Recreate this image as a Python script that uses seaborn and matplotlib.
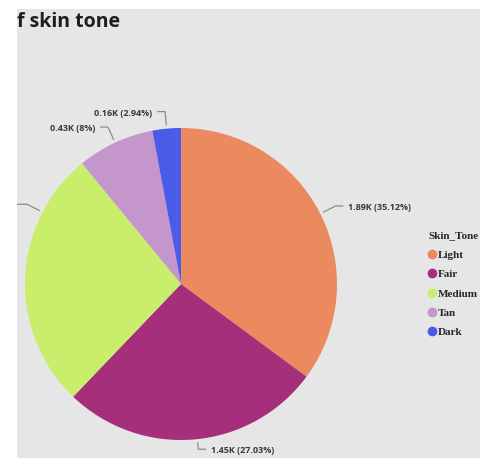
import numpy as np
import matplotlib
matplotlib.use("Agg")
import matplotlib.pyplot as plt
from matplotlib.lines import Line2D
import seaborn as sns

# Skin tone counts
tones = ["Light", "Fair", "Medium", "Tan", "Dark"]
counts = [1888, 1453, 1447, 430, 158]
tone_colors = ["#EA8A5E", "#A52F7B", "#C9EE6C", "#C596CB", "#4A5BE8"]

sns.set_style("white")
plt.rcParams["font.family"] = ["Open Sans", "DejaVu Sans"]

W, H, DPI = 481, 458, 100
fig = plt.figure(figsize=(W / DPI, H / DPI), dpi=DPI, facecolor="white")

# grey report panel
px_left, px_top = 17, 9
ax = fig.add_axes([px_left / W, 0, (W - px_left) / W, (H - px_top) / H])
ax.set_facecolor("#E6E6E6")

# pie centre / radius in pixels of the panel
cx, cy, rad = 181, 284, 156

palette = sns.color_palette(tone_colors)
wedges, _ = ax.pie(counts, colors=palette, startangle=90, counterclock=False,
                   radius=1.0, center=(0, 0), frame=True,
                   wedgeprops=dict(linewidth=0))
ax.set_xlim((px_left - cx) / rad, (W - cx) / rad)
ax.set_ylim((cy - H) / rad, (cy - px_top) / rad)
ax.set_aspect("auto")
for s in ax.spines.values():
    s.set_visible(False)
ax.set_xticks([])
ax.set_yticks([])

total = sum(counts)
# leader-line anchor angles (degrees); defaults to the wedge middle
angle_override = {"Fair": -84.0, "Medium": 152.6}
# elbow radius of each leader line
elbow_r = {"Fair": 1.065}
# the Medium label sits beyond the left edge of the panel, only its line shows
hidden_labels = {"Medium"}
for w, tone, n in zip(wedges, tones, counts):
    mid = 0.5 * (w.theta1 + w.theta2)
    ang = np.deg2rad(angle_override.get(tone, mid))
    r1 = elbow_r.get(tone, 1.11)
    x0, y0 = 1.02 * np.cos(ang), 1.02 * np.sin(ang)
    x1, y1 = r1 * np.cos(ang), r1 * np.sin(ang)
    side = 1 if np.cos(ang) > 0.02 else -1
    x2 = x1 + side * 0.05
    if tone in hidden_labels:
        x2 = x1 - 0.5
    ax.plot([x0, x1, x2], [y0, y1, y1], color="#8C8C8C", lw=0.9,
            solid_capstyle="butt", clip_on=True)
    if tone in hidden_labels:
        continue
    pct = 100 * n / total
    pct_txt = f"{pct:.2f}".rstrip("0").rstrip(".")
    label = f"{n / 1000:.2f}K ({pct_txt}%)"
    ax.text(x2 + side * 0.03, y1 - 0.01, label, ha="left" if side > 0 else "right",
            va="center", fontsize=6.5, fontweight="bold", color="#3A3A3A",
            clip_on=True)

# legend
handles = [Line2D([], [], marker="o", linestyle="", markersize=6,
                  markerfacecolor=c, markeredgecolor=c) for c in palette]
leg = fig.legend(handles, tones, title="Skin_Tone", loc="upper left",
                 bbox_to_anchor=(423 / W, 1 - 226 / H), frameon=False,
                 handlelength=0.6, handletextpad=0.25, labelspacing=0.86,
                 borderpad=0, alignment="left",
                 prop=dict(family="Liberation Serif", weight="bold", size=8.0),
                 title_fontproperties=dict(family="Liberation Serif", weight="bold", size=8.0))

fig.text(px_left / W, 1 - 22 / H, "f skin tone", ha="left", va="center",
         fontsize=14, fontweight="bold", color="#1E1E1E")

fig.savefig("out.png", dpi=DPI, facecolor="white")
